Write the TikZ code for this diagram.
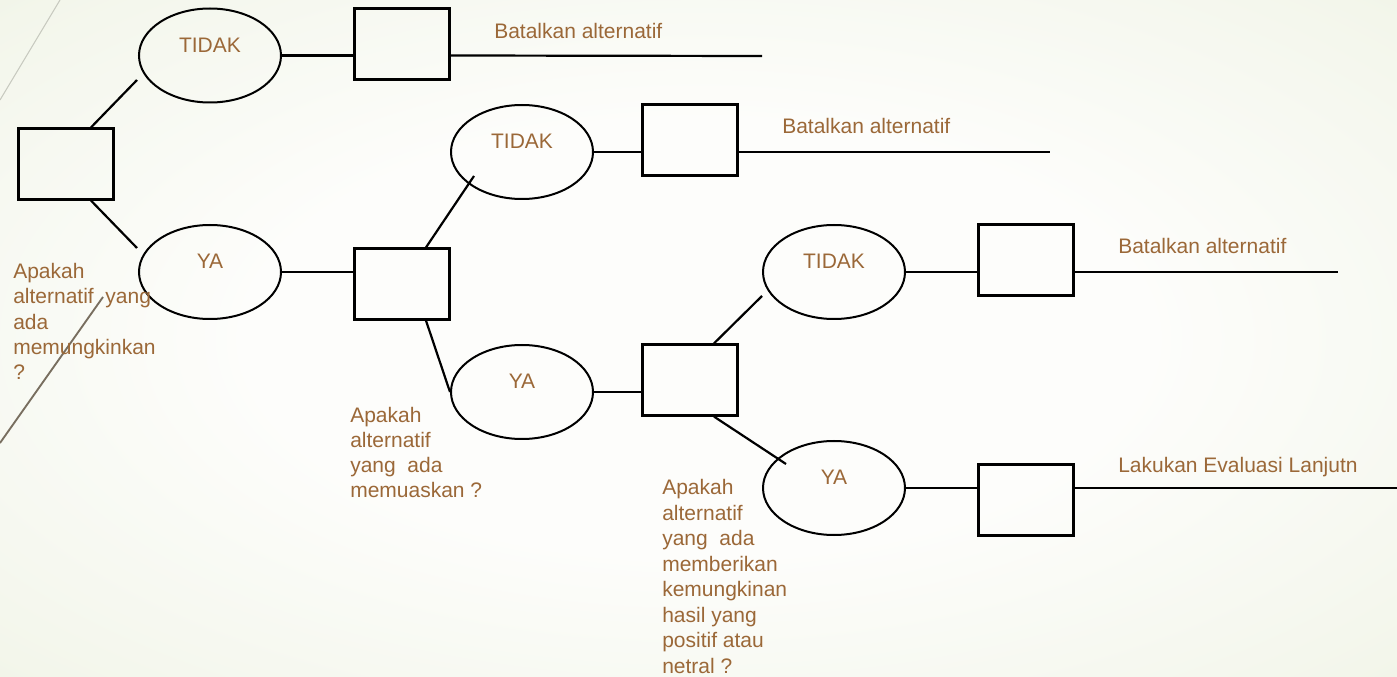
\documentclass[tikz,border=0pt]{standalone}
\usepackage{fontspec}
\setmainfont{Liberation Sans}
\usetikzlibrary{shapes.geometric,calc}
\definecolor{txt}{RGB}{155,104,56}
\definecolor{bgin}{RGB}{253,253,251}
\definecolor{bgmid}{RGB}{243,246,235}
\definecolor{bgout}{RGB}{227,235,208}
\definecolor{deco}{RGB}{120,110,95}
\definecolor{decolight}{RGB}{200,202,192}
\pgfdeclareradialshading{bgshade}{\pgfpoint{0bp}{0bp}}{color(0bp)=(bgin); color(16bp)=(bgin); color(34bp)=(bgmid); color(50bp)=(bgout); color(75bp)=(bgout)}
\begin{document}
\begin{tikzpicture}[x=0.75pt,y=-0.75pt,
  box/.style={draw,line width=1.65pt,minimum width=71.25pt,minimum height=53.25pt,inner sep=0},
  oval/.style={draw,ellipse,line width=1.5pt,minimum width=106.5pt,minimum height=70.5pt,inner sep=0},
  lbl/.style={text=txt,font=\fontsize{15.75}{19.1}\selectfont,inner sep=0},
  inlbl/.style={lbl,yshift=7.7pt},
  conn/.style={line width=1.65pt}]
% background
\shade[shading=bgshade] (0,0) rectangle (1397,677);
\useasboundingbox (0,0) rectangle (1397,677);
% slide decoration
\draw[decolight, line width=0.8pt] (0,100) -- (60,0);
\draw[deco, line width=1.4pt] (103,297) -- (0,443);
% nodes
\node[box] (box1) at (66,164) {};
\node[oval, label={[inlbl]center:TIDAK}] (tidak1) at (210,55.5) {};
\node[oval, label={[inlbl]center:YA}] (ya1) at (210,272) {};
\node[box] (box2) at (402,44) {};
\node[box] (box3) at (402,284) {};
\node[oval, label={[inlbl]center:TIDAK}] (tidak2) at (522,152) {};
\node[oval, label={[inlbl]center:YA}] (ya2) at (522,392) {};
\node[box] (box4) at (690,140) {};
\node[box] (box5) at (690,380) {};
\node[oval, label={[inlbl]center:TIDAK}] (tidak3) at (834,272) {};
\node[oval, label={[inlbl]center:YA}] (ya3) at (834,488) {};
\node[box] (box6) at (1026,260) {};
\node[box] (box7) at (1026,500) {};
% free ends
\coordinate (e1) at (762,56);
\coordinate (e2) at (1050,152);
\coordinate (e3) at (1338,272);
\coordinate (e4) at (1397,488);
% connectors
\draw[conn] ($(box1.north)+(25,0)$) -- ($(tidak1.center)+(-73,24.5)$);
\draw[conn] ($(box1.south)+(25,0)$) -- ($(ya1.center)+(-73,-24)$);
\draw[conn] (tidak1.east) -- (tidak1.east -| box2.west);
\draw[conn] (box2.east |- tidak1.east) -- (e1);
\draw[conn] (ya1.east) -- (ya1.east -| box3.west);
\draw[conn] ($(box3.north)+(24,0)$) -- ($(tidak2.center)+(-48,24)$);
\draw[conn] ($(box3.south)+(24,0)$) -- (ya2.west);
\draw[conn] (tidak2.east) -- (tidak2.east -| box4.west);
\draw[conn] (box4.east |- tidak2.east) -- (e2);
\draw[conn] (ya2.east) -- (ya2.east -| box5.west);
\draw[conn] ($(box5.north)+(24,0)$) -- ($(tidak3.center)+(-72,24)$);
\draw[conn] ($(box5.south)+(24,0)$) -- ($(ya3.center)+(-48,-24)$);
\draw[conn] (tidak3.east) -- (tidak3.east -| box6.west);
\draw[conn] (box6.east |- tidak3.east) -- (e3);
\draw[conn] (ya3.east) -- (ya3.east -| box7.west);
\draw[conn] (box7.east |- ya3.east) -- (e4);
% outcome labels
\node[lbl, anchor=base west] (o1) at (494,39) {Batalkan alternatif};
\node[lbl, anchor=base west] (o2) at (782,134) {Batalkan alternatif};
\node[lbl, anchor=base west] (o3) at (1118,254) {Batalkan alternatif};
\node[lbl, anchor=base west] (o4) at (1118,472) {Lakukan Evaluasi Lanjutn};
% question labels (anchored at the baseline of the last line)
\node[lbl, align=left, anchor=base west] (q1) at (13,380) {Apakah\\alternatif\ \ yang\\ada\\memungkinkan\\?};
\node[lbl, align=left, anchor=base west, font=\fontsize{15.75}{18.75}\selectfont] (q2) at (350,498) {Apakah\\alternatif\\yang\ \ ada\\memuaskan ?};
\node[lbl, align=left, anchor=base west] (q3) at (662,673) {Apakah\\alternatif\\yang\ \ ada\\memberikan\\kemungkinan\\hasil yang\\positif atau\\netral ?};
\end{tikzpicture}
\end{document}
